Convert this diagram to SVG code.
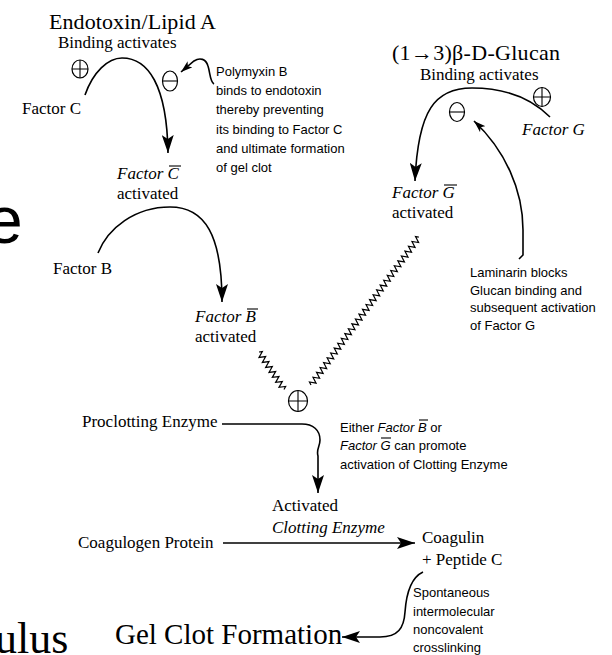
<svg xmlns="http://www.w3.org/2000/svg" width="612" height="655" viewBox="0 0 612 655">
<style>
.lbl{font-family:"Liberation Serif","Times New Roman",serif;font-size:17px;fill:#000}
.lbl.t22{font-size:22px}
.lbl.t29{font-size:29px}
.it{font-style:italic}
.note{font-family:"Liberation Sans",Arial,sans-serif;font-size:13px;fill:#000}
.ln{fill:none;stroke:#000;stroke-width:1.6}
.zz{fill:none;stroke:#000;stroke-width:1.2;stroke-linejoin:miter}
.sym{fill:#fff;stroke:#000;stroke-width:1.2}
.ov{stroke:#000;stroke-width:1.1}
</style>
<defs>
<marker id="big" markerUnits="userSpaceOnUse" viewBox="0 0 18 12" refX="18" refY="6" markerWidth="18" markerHeight="12" orient="auto"><path d="M0,0 L18,6 L0,12 L4,6 z" fill="#000"/></marker>
<marker id="small" markerUnits="userSpaceOnUse" viewBox="0 0 12 8" refX="12" refY="4" markerWidth="12" markerHeight="8" orient="auto"><path d="M0,0 L12,4 L0,8 L3,4 z" fill="#000"/></marker>
</defs>
<rect width="612" height="655" fill="#fff"/>
<g id="background-fragments">
<text x="-14" y="243" font-family="Liberation Sans, Arial, sans-serif" font-size="66">e</text>
<text x="-5" y="653" font-family="Liberation Serif, Times New Roman, serif" font-size="44">ulus</text>
</g>
<g id="connectors">
<path class="ln" d="M85,95 C93,72 108,58 122,58 C148,58 167,85 168,153" marker-end="url(#big)"/>
<path class="ln" d="M214,84 C210,82 210,72 208,66 C206,59 200,57 194,61 L181,72" marker-end="url(#small)"/>
<path class="ln" d="M98,253 C108,228 135,207 170,207 C205,207 222,235 222,302" marker-end="url(#big)"/>
<path class="ln" d="M550,117 C530,97 505,88 472,88 C435,88 418,110 415,181" marker-end="url(#big)"/>
<path class="ln" d="M519,259 L523,255 L523,230 C523,190 505,150 474,121" marker-end="url(#small)"/>
<path class="zz" transform="translate(259,352) rotate(56.3)" d="M0,0 l1.5,-3 l3,6 l3,-6 l3,6 l3,-6 l3,6 l3,-6 l3,6 l3,-6 l3,6 l3,-6 l3,6 l3,-6 l3,6 l3,-6 l1.5,3"/>
<path class="zz" transform="translate(311,385) rotate(-53.9)" d="M0,0 l1.5,-3 l3,6 l3,-6 l3,6 l3,-6 l3,6 l3,-6 l3,6 l3,-6 l3,6 l3,-6 l3,6 l3,-6 l3,6 l3,-6 l3,6 l3,-6 l3,6 l3,-6 l3,6 l3,-6 l3,6 l3,-6 l3,6 l3,-6 l3,6 l3,-6 l3,6 l3,-6 l3,6 l3,-6 l3,6 l3,-6 l3,6 l3,-6 l3,6 l3,-6 l3,6 l3,-6 l3,6 l3,-6 l3,6 l3,-6 l3,6 l3,-6 l3,6 l3,-6 l3,6 l3,-6 l3,6 l3,-6 l3,6 l3,-6 l3,6 l3,-6 l3,6 l3,-6 l3,6 l3,-6 l3,6 l3,-6 l1.5,3"/>
<path class="ln" d="M222,424 L302,424 C313,424 320,430 320,440 C320,447 316,449 318,456 L318,493" marker-end="url(#big)"/>
<path class="ln" d="M223,543 L415,543" marker-end="url(#big)"/>
<path class="ln" d="M423,572 C410,578 406,598 405,612 C404,628 398,637 380,637 L342,637" marker-end="url(#big)"/>
</g>
<g id="endotoxin">
<text class="lbl t22" x="49" y="29" textLength="167">Endotoxin/Lipid A</text>
<text class="lbl" x="58" y="48">Binding activates</text>
</g>
<g id="plus-c">
<ellipse class="sym" cx="80" cy="69" rx="8" ry="9"/>
<path class="ov" d="M72,69 H88 M80,60 V78"/>
</g>
<g id="minus-c">
<ellipse class="sym" cx="170" cy="81" rx="7.5" ry="10"/>
<path class="ov" d="M162.5,81 H177.5"/>
</g>
<g id="factor-c"><text class="lbl" x="22" y="114">Factor C</text></g>
<g id="polymyxin-note">
<text class="note" x="216" y="76">Polymyxin B</text>
<text class="note" x="216" y="95">binds to endotoxin</text>
<text class="note" x="216" y="114">thereby preventing</text>
<text class="note" x="216" y="134">its binding to Factor C</text>
<text class="note" x="216" y="153">and ultimate formation</text>
<text class="note" x="216" y="172">of gel clot</text>
</g>
<g id="factor-c-activated">
<text class="lbl it" x="117" y="179">Factor C</text>
<line class="ov" x1="169" y1="166" x2="181" y2="166"/>
<text class="lbl" x="117" y="199">activated</text>
</g>
<g id="glucan">
<text class="lbl t22" x="392" y="60" textLength="168">(1→3)β-D-Glucan</text>
<text class="lbl" x="420" y="80">Binding activates</text>
</g>
<g id="plus-g">
<ellipse class="sym" cx="542" cy="97" rx="8.5" ry="9.5"/>
<path class="ov" d="M533.5,97 H550.5 M542,87.5 V106.5"/>
</g>
<g id="minus-g">
<ellipse class="sym" cx="457" cy="112" rx="7.5" ry="9.5"/>
<path class="ov" d="M449.5,112 H464.5"/>
</g>
<g id="factor-g"><text class="lbl it" x="522" y="135">Factor G</text></g>
<g id="factor-g-activated">
<text class="lbl it" x="392" y="198">Factor G</text>
<line class="ov" x1="444" y1="185" x2="457" y2="185"/>
<text class="lbl" x="392" y="218">activated</text>
</g>
<g id="laminarin-note">
<text class="note" x="470" y="277">Laminarin blocks</text>
<text class="note" x="470" y="294.5">Glucan binding and</text>
<text class="note" x="470" y="312">subsequent activation</text>
<text class="note" x="470" y="329.5">of Factor G</text>
</g>
<g id="factor-b"><text class="lbl" x="53" y="274">Factor B</text></g>
<g id="factor-b-activated">
<text class="lbl it" x="195" y="322">Factor B</text>
<line class="ov" x1="247" y1="309" x2="258" y2="309"/>
<text class="lbl" x="195" y="342">activated</text>
</g>
<g id="plus-center">
<ellipse class="sym" cx="298" cy="401" rx="9.5" ry="10.5"/>
<path class="ov" d="M288.5,401 H307.5 M298,390.5 V411.5"/>
</g>
<g id="proclotting"><text class="lbl" x="82" y="427">Proclotting Enzyme</text></g>
<g id="either-note">
<text class="note" x="340" y="432">Either <tspan font-style="italic">Factor B</tspan> or</text>
<line class="ov" x1="419" y1="420" x2="428" y2="420"/>
<text class="note" x="340" y="450"><tspan font-style="italic">Factor G</tspan> can promote</text>
<line class="ov" x1="381" y1="438" x2="391" y2="438"/>
<text class="note" x="340" y="469">activation of Clotting Enzyme</text>
</g>
<g id="clotting-enzyme">
<text class="lbl" x="272" y="511">Activated</text>
<text class="lbl it" x="272" y="533">Clotting Enzyme</text>
</g>
<g id="coagulogen"><text class="lbl" x="78" y="548">Coagulogen Protein</text></g>
<g id="coagulin">
<text class="lbl" x="422" y="543">Coagulin</text>
<text class="lbl" x="422" y="565">+ Peptide C</text>
</g>
<g id="crosslink-note">
<text class="note" x="413" y="597">Spontaneous</text>
<text class="note" x="413" y="616">intermolecular</text>
<text class="note" x="413" y="634">noncovalent</text>
<text class="note" x="413" y="652">crosslinking</text>
</g>
<g id="gel-clot"><text class="lbl t29" x="115" y="644">Gel Clot Formation</text></g>
</svg>
